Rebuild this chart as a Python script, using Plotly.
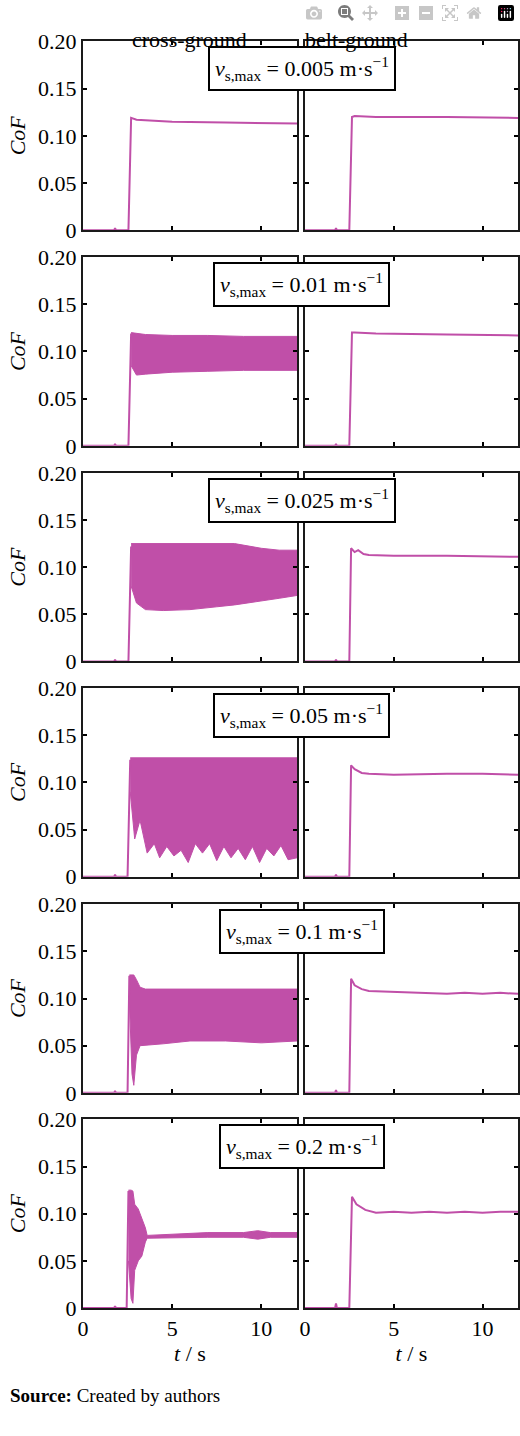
import plotly.graph_objects as go

W, H = 520, 1436
COL = "#C04FA8"

labels = ["0.005", "0.01", "0.025", "0.05", "0.1", "0.2"]

# left column (cross-ground): baseline line + optional oscillation band
L_t = [
    [0, 1.75, 1.8, 1.85, 2.55, 2.7, 3.0, 5, 8, 12],
    [0, 1.75, 1.8, 1.85, 2.55, 2.7],
    [0, 1.75, 1.8, 1.85, 2.55, 2.7],
    [0, 1.75, 1.8, 1.85, 2.5, 2.65],
    [0, 1.75, 1.8, 1.85, 2.5, 2.6],
    [0, 1.75, 1.8, 1.85, 2.45, 2.55],
]
L_c = [
    [0, 0, 0.002, 0, 0, 0.119, 0.117, 0.115, 0.114, 0.113],
    [0, 0, 0.002, 0, 0, 0.119],
    [0, 0, 0.002, 0, 0, 0.122],
    [0, 0, 0.002, 0, 0, 0.124],
    [0, 0, 0.002, 0, 0, 0.124],
    [0, 0, 0.002, 0, 0, 0.124],
]
# oscillation band envelopes (None for row 1)
B_t = [
    None,
    [2.7, 3.0, 3.5, 5, 7, 9, 12],
    [2.7, 3.0, 3.5, 4.5, 6, 7.5, 8.5, 10, 11, 12],
    [2.65, 2.9, 3.2, 3.6, 4.0, 4.3, 4.7, 5.1, 5.5, 5.9, 6.3, 6.7, 7.1, 7.5, 7.9, 8.3, 8.7, 9.1, 9.5, 9.9, 10.3, 10.7, 11.1, 11.5, 12],
    [2.6, 2.75, 2.85, 3.0, 3.2, 3.5, 4.5, 6, 8, 10, 12],
    [2.55, 2.7, 2.8, 2.9, 3.1, 3.3, 3.5, 3.6, 5, 7, 9, 9.8, 10.5, 12],
]
B_hi = [
    None,
    [0.120, 0.119, 0.118, 0.117, 0.117, 0.116, 0.116],
    [0.125, 0.125, 0.125, 0.125, 0.125, 0.125, 0.125, 0.120, 0.118, 0.118],
    [0.126] * 25,
    [0.125, 0.125, 0.125, 0.120, 0.112, 0.110, 0.110, 0.110, 0.110, 0.110, 0.110],
    [0.125, 0.125, 0.124, 0.110, 0.105, 0.095, 0.085, 0.077, 0.078, 0.080, 0.080, 0.082, 0.080, 0.080],
]
B_lo = [
    None,
    [0.085, 0.075, 0.076, 0.078, 0.079, 0.080, 0.080],
    [0.080, 0.062, 0.055, 0.054, 0.055, 0.058, 0.060, 0.064, 0.067, 0.070],
    [0.090, 0.040, 0.060, 0.025, 0.035, 0.020, 0.032, 0.022, 0.028, 0.015, 0.035, 0.025, 0.035, 0.017, 0.032, 0.020, 0.030, 0.018, 0.032, 0.015, 0.030, 0.022, 0.033, 0.018, 0.020],
    [0.100, 0.020, 0.008, 0.040, 0.050, 0.050, 0.052, 0.055, 0.055, 0.053, 0.055],
    [0.050, 0.010, 0.005, 0.040, 0.050, 0.055, 0.070, 0.074, 0.074, 0.075, 0.075, 0.073, 0.075, 0.075],
]
# right column (belt-ground)
R_t = [
    [0, 1.7, 1.75, 1.8, 2.5, 2.65, 2.8, 4, 8, 12],
    [0, 1.7, 1.75, 1.8, 2.5, 2.65, 2.8, 4, 8, 12],
    [0, 1.7, 1.75, 1.8, 2.5, 2.6, 2.8, 3.0, 3.3, 3.6, 5, 8, 12],
    [0, 1.7, 1.75, 1.8, 2.5, 2.6, 2.8, 3.2, 3.6, 5, 8, 10, 12],
    [0, 1.7, 1.75, 1.8, 2.5, 2.6, 2.8, 3.2, 3.6, 5, 7, 8, 9, 10, 11, 12],
    [0, 1.7, 1.75, 1.8, 2.5, 2.65, 2.9, 3.4, 4.0, 5.0, 6.0, 7.0, 8.0, 9.0, 10.0, 11.0, 12],
]
R_c = [
    [0, 0, 0.002, 0, 0, 0.120, 0.121, 0.120, 0.120, 0.119],
    [0, 0, 0.002, 0, 0, 0.120, 0.120, 0.119, 0.118, 0.117],
    [0, 0, 0.002, 0, 0, 0.120, 0.116, 0.118, 0.114, 0.113, 0.112, 0.112, 0.111],
    [0, 0, 0.002, 0, 0, 0.118, 0.114, 0.110, 0.109, 0.108, 0.109, 0.109, 0.108],
    [0, 0, 0.003, 0, 0, 0.121, 0.114, 0.110, 0.108, 0.107, 0.106, 0.105, 0.106, 0.105, 0.106, 0.105],
    [0, 0, 0.005, 0, 0, 0.118, 0.110, 0.104, 0.101, 0.102, 0.101, 0.102, 0.101, 0.102, 0.101, 0.102, 0.102],
]

x_ticks = [0, 5, 10]
y_ticks = [0, 0.05, 0.10, 0.15, 0.20]
y_ticktext = ["0", "0.05", "0.10", "0.15", "0.20"]

FONT = "Liberation Serif"
fig = go.Figure()
row_tops = [30, 249.5, 469, 688, 908, 1127]
ph = 192
colx = [(78, 295), (303, 519)]

anns = []
n = 0
for r in range(6):
    for c in range(2):
        n += 1
        xa = "x" if n == 1 else f"x{n}"
        ya = "y" if n == 1 else f"y{n}"
        if c == 0:
            if B_t[r] is not None:
                fig.add_trace(go.Scatter(
                    x=B_t[r] + B_t[r][::-1], y=B_hi[r] + B_lo[r][::-1],
                    fill="toself", fillcolor=COL, line=dict(color=COL, width=1),
                    mode="lines", xaxis=xa, yaxis=ya, showlegend=False))
            fig.add_trace(go.Scatter(x=L_t[r], y=L_c[r], mode="lines",
                                     line=dict(color=COL, width=2),
                                     xaxis=xa, yaxis=ya, showlegend=False))
        else:
            fig.add_trace(go.Scatter(x=R_t[r], y=R_c[r], mode="lines",
                                     line=dict(color=COL, width=2),
                                     xaxis=xa, yaxis=ya, showlegend=False))
        top = row_tops[r]
        dom_y = [1 - (top + ph) / H, 1 - top / H]
        dom_x = [colx[c][0] / W, colx[c][1] / W]
        xkey = "xaxis" if n == 1 else f"xaxis{n}"
        ykey = "yaxis" if n == 1 else f"yaxis{n}"
        fig.layout[xkey] = dict(
            domain=dom_x, range=[0, 12], anchor=ya, tickvals=x_ticks,
            showticklabels=(r == 5), ticks="inside", ticklen=4, tickwidth=2,
            tickcolor="black", showline=True, linewidth=2, linecolor="#1a1a1a",
            mirror="ticks", showgrid=False, zeroline=False,
            tickfont=dict(family=FONT, size=22, color="black"),
            title=dict(text="<i>t</i> / s", font=dict(family=FONT, size=22, color="black"), standoff=4) if r == 5 else None)
        fig.layout[ykey] = dict(
            domain=dom_y, range=[0, 0.2], anchor=xa, tickvals=y_ticks, ticktext=y_ticktext,
            showticklabels=(c == 0), ticks="inside", ticklen=4, tickwidth=2,
            tickcolor="black", showline=True, linewidth=2, linecolor="#1a1a1a",
            mirror="ticks", showgrid=False, zeroline=False,
            tickfont=dict(family=FONT, size=22, color="black"),
            title=dict(text="<i>CoF</i>", font=dict(family=FONT, size=22, color="black"), standoff=6) if c == 0 else None)
        if c == 0:
            anns.append(dict(
                x=300 / W, xref="paper", y=1 - (top + 28) / H, yref="paper",
                text=f"<i>v</i><sub>s,max</sub> = {labels[r]} m·s<sup>−1</sup>",
                showarrow=False, bgcolor="white", bordercolor="black", borderwidth=2,
                borderpad=5, font=dict(family=FONT, size=22, color="black"),
                xanchor="center", yanchor="middle"))

anns.append(dict(x=186 / W, y=1 - 13 / H, xref="paper", yref="paper", text="cross-ground",
                 showarrow=False, font=dict(family=FONT, size=22, color="black")))
anns.append(dict(x=410 / W, y=1 - 13 / H, xref="paper", yref="paper", text="belt-ground",
                 showarrow=False, font=dict(family=FONT, size=22, color="black")))
anns.append(dict(x=2 / W, y=1 - 1421 / H, xref="paper", yref="paper", xanchor="left",
                 text="<b>Source:</b> Created by authors",
                 showarrow=False, font=dict(family=FONT, size=19, color="black")))

fig.update_layout(width=W, height=H, margin=dict(l=0, r=0, t=0, b=0),
                  paper_bgcolor="white", plot_bgcolor="white", annotations=anns)
fig.write_html("out.html", post_script=(
    "document.body.style.margin='0';document.body.style.padding='0';"
    "document.documentElement.style.overflow='hidden';document.body.style.overflow='hidden';"
    "Plotly.Plots.resize(document.getElementById('{plot_id}'));"))
